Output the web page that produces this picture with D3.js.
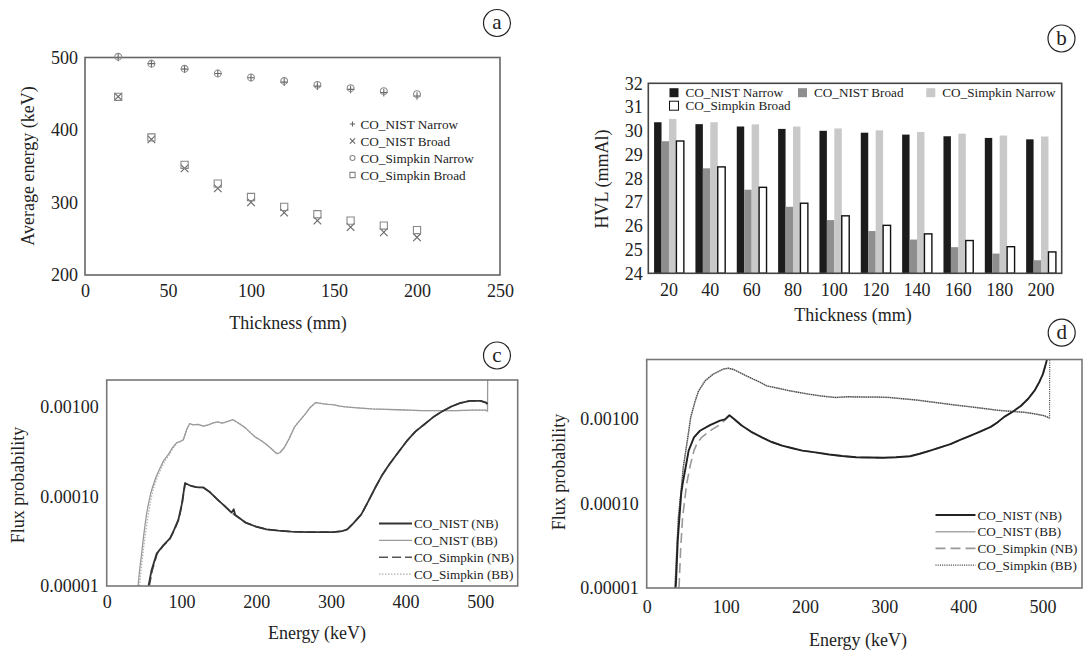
<!DOCTYPE html>
<html>
<head>
<meta charset="utf-8">
<script src="https://cdn.jsdelivr.net/npm/d3@7"></script>
<style>
body{margin:0;background:#fff}
svg text{font-family:"Liberation Serif","Times New Roman",Times,"DejaVu Serif",serif;fill:#222}
</style>
</head>
<body>
<script>
// ---- panel a : average energy vs thickness
const thickness = [20,40,60,80,100,120,140,160,180,200];
const avgNistNarrow   = [500,491.5,484,478,472,466,460.5,456,451.5,447];
const avgNistBroad    = [446,387,347,319.5,300.3,286,275,266,259,252];
const avgSimpkinNarrow= [501,491.3,484.4,478,472.5,467.5,462.3,457.7,453.6,449.5];
const avgSimpkinBroad = [445.8,389.7,352,326,307.6,293.9,283.8,275,268.2,262];

// ---- panel b : HVL bars
const hvlSeries = ["CO_NIST Narrow","CO_NIST Broad","CO_Simpkin Narrow","CO_Simpkin Broad"];
const hvlNistNarrow   = [30.36,30.28,30.18,30.08,30.0,29.92,29.84,29.77,29.70,29.64];
const hvlNistBroad    = [29.56,28.42,27.52,26.8,26.24,25.78,25.42,25.1,24.83,24.55];
const hvlSimpkinNarrow= [30.5,30.36,30.27,30.18,30.1,30.02,29.95,29.88,29.8,29.76];
const hvlSimpkinBroad = [29.57,28.48,27.62,26.95,26.42,26.02,25.66,25.38,25.12,24.9];

// ---- panel c : flux spectra [energy keV, flux]
const cNistNB = [[56,1e-5],[60,1.5e-5],[66.9,2.3e-5],[75,2.8e-5],[84.7,3.4e-5],[90,4.2e-5],[95.9,5.5e-5],[100.4,8.1e-5],[104.8,1.41e-4],[108,1.37e-4],[113,1.31e-4],[120,1.27e-4],[129.5,1.26e-4],[138,1.12e-4],[148,9.3e-5],[158,7.8e-5],[167,6.6e-5],[170,7.2e-5],[172,6.2e-5],[178,5.7e-5],[186,5.1e-5],[200,4.6e-5],[214,4.3e-5],[230,4.15e-5],[247,4.05e-5],[270,4.0e-5],[303,4.0e-5],[315,4.1e-5],[322,4.3e-5],[330,5.0e-5],[340.7,6.3e-5],[350,8.8e-5],[359.5,1.26e-4],[368,1.7e-4],[378.3,2.29e-4],[390,3.1e-4],[401.7,4.17e-4],[413,5.3e-4],[425.2,6.4e-4],[437,7.7e-4],[448.7,8.9e-4],[460,1.0e-3],[472.2,1.10e-3],[486.2,1.17e-3],[500.3,1.17e-3],[507.4,1.12e-3],[509.6,1.08e-3]];
const cNistBB = [[42,1e-5],[44,1.5e-5],[46.8,2.3e-5],[49,3.4e-5],[51.3,4.8e-5],[53.5,6.5e-5],[55.7,8.1e-5],[59,1.1e-4],[62.4,1.35e-4],[66,1.65e-4],[71.4,2.08e-4],[76,2.5e-4],[82.5,2.95e-4],[88,3.5e-4],[93.7,4.0e-4],[98,4.1e-4],[102.6,4.3e-4],[107,5.6e-4],[111,6.5e-4],[116,6.3e-4],[122,6.4e-4],[129.5,6.1e-4],[136,6.3e-4],[142,6.6e-4],[148,6.8e-4],[155,6.6e-4],[162,6.9e-4],[169,7.2e-4],[175,6.7e-4],[180,6.3e-4],[186,5.8e-4],[193,5.1e-4],[199,4.6e-4],[205,4.3e-4],[212,3.9e-4],[219,3.5e-4],[224,3.2e-4],[228,3.0e-4],[232,3.1e-4],[237.5,3.5e-4],[244,4.4e-4],[251.5,6.0e-4],[258,7.0e-4],[265.6,8.3e-4],[272,9.8e-4],[279.7,1.12e-3],[288,1.09e-3],[296,1.07e-3],[303,1.06e-3],[312,1.02e-3],[320,1.0e-3],[327,9.9e-4],[340,9.7e-4],[355,9.5e-4],[373.6,9.4e-4],[390,9.3e-4],[405,9.2e-4],[420.5,9.1e-4],[440,9.1e-4],[467.5,9.1e-4],[490,9.2e-4],[507,9.2e-4],[509.6,9.0e-4],[509.8,2.0e-3]];
const cSimpkinNB = [[57,1e-5],[61,1.5e-5],[67.5,2.3e-5],[75.5,2.8e-5],[85,3.4e-5],[90.5,4.2e-5],[96.3,5.5e-5],[100.8,8.1e-5],[105,1.4e-4],[108,1.37e-4],[113,1.31e-4],[120,1.27e-4],[129.5,1.25e-4],[138,1.12e-4],[148,9.3e-5],[158,7.8e-5],[167,6.6e-5],[178,5.7e-5],[186,5.1e-5],[200,4.6e-5],[214,4.3e-5],[230,4.15e-5],[247,4.05e-5],[270,4.0e-5],[303,4.0e-5],[315,4.1e-5],[322,4.3e-5],[330,5.0e-5],[340.7,6.3e-5],[350,8.8e-5],[359.5,1.26e-4],[368,1.7e-4],[378.3,2.29e-4],[390,3.1e-4],[401.7,4.17e-4],[413,5.3e-4],[425.2,6.4e-4],[437,7.7e-4],[448.7,8.9e-4],[460,1.0e-3],[472.2,1.10e-3],[486.2,1.17e-3],[500.3,1.17e-3],[507.4,1.12e-3],[509.6,1.08e-3]];
const cSimpkinBB = [[44,1e-5],[46,1.5e-5],[48.5,2.3e-5],[51,3.4e-5],[53.5,4.8e-5],[56,6.5e-5],[58,8.1e-5],[61,1.1e-4],[64,1.35e-4],[68,1.65e-4],[73,2.08e-4],[78,2.5e-4],[84,2.95e-4],[89,3.5e-4],[94.5,4.0e-4],[98.5,4.1e-4],[102.6,4.3e-4],[107,5.6e-4],[111,6.5e-4],[116,6.3e-4],[122,6.4e-4],[129.5,6.1e-4],[136,6.3e-4],[142,6.6e-4],[148,6.8e-4],[155,6.6e-4],[162,6.9e-4],[169,7.2e-4],[175,6.7e-4],[180,6.3e-4],[186,5.8e-4],[193,5.1e-4],[199,4.6e-4],[205,4.3e-4],[212,3.9e-4],[219,3.5e-4],[224,3.2e-4],[228,3.0e-4],[232,3.1e-4],[237.5,3.5e-4],[244,4.4e-4],[251.5,6.0e-4],[258,7.0e-4],[265.6,8.3e-4],[272,9.8e-4],[279.7,1.12e-3],[288,1.09e-3],[296,1.07e-3],[303,1.06e-3],[312,1.02e-3],[320,1.0e-3],[327,9.9e-4],[340,9.7e-4],[355,9.5e-4],[373.6,9.4e-4],[390,9.3e-4],[405,9.2e-4],[420.5,9.1e-4],[440,9.1e-4],[467.5,9.1e-4],[490,9.2e-4],[507,9.2e-4],[509.6,9.0e-4]];

// ---- panel d : flux spectra [energy keV, flux]
const dNistNB = [[36.5,1e-5],[37,1.15e-5],[39.3,3.7e-5],[41.4,6.9e-5],[43.6,1.3e-4],[45.4,1.7e-4],[49,2.6e-4],[53,4.2e-4],[59.7,6.0e-4],[67.3,7.2e-4],[80,8.4e-4],[92.6,9.5e-4],[98.8,9.8e-4],[104.5,1.1e-3],[110,1.0e-3],[120,8.3e-4],[132,7.0e-4],[145.6,6.0e-4],[158,5.3e-4],[171,4.8e-4],[183,4.5e-4],[196.6,4.2e-4],[213,4.0e-4],[230.6,3.77e-4],[247,3.62e-4],[264.6,3.5e-4],[281,3.48e-4],[298.6,3.45e-4],[315,3.5e-4],[332.7,3.6e-4],[345,3.85e-4],[358.2,4.2e-4],[370,4.55e-4],[383.7,5.0e-4],[396,5.6e-4],[409.2,6.3e-4],[422,7.1e-4],[434.7,8.0e-4],[443,9.0e-4],[451.7,1.05e-3],[462,1.2e-3],[473,1.42e-3],[482,1.72e-3],[490,2.14e-3],[496,2.7e-3],[500.6,3.36e-3],[504.8,4.6e-3],[506.5,5.5e-3]];
const dNistBB = [[35.7,1e-5],[38,2.8e-5],[40.2,6.9e-5],[43.2,1.3e-4],[46.4,2.7e-4],[52.7,6.6e-4],[55.7,1.04e-3],[61.2,1.6e-3],[65.4,2.1e-3],[73.8,2.8e-3],[84,3.36e-3],[96.7,3.85e-3],[103,3.95e-3],[110,3.8e-3],[117.8,3.5e-3],[126,3.2e-3],[134.6,2.93e-3],[143,2.7e-3],[151.5,2.44e-3],[165,2.3e-3],[179,2.15e-3],[191,2.05e-3],[204.5,1.95e-3],[221,1.85e-3],[238.5,1.78e-3],[255,1.82e-3],[272.6,1.8e-3],[290,1.8e-3],[306.7,1.78e-3],[323,1.72e-3],[340.8,1.66e-3],[358,1.58e-3],[374.9,1.51e-3],[392,1.44e-3],[409,1.38e-3],[426,1.32e-3],[443,1.26e-3],[460,1.22e-3],[477,1.19e-3],[490,1.14e-3],[502.7,1.08e-3],[509,1.02e-3]];
const dSimpkinNB = [[40.8,1e-5],[43,3e-5],[45.4,6.9e-5],[50.5,1.7e-4],[55,2.8e-4],[59.7,4.2e-4],[64,5.2e-4],[69.4,6.0e-4],[80,7.2e-4],[92.6,8.5e-4],[104.5,1.08e-3],[110,1.0e-3],[120,8.3e-4],[132,7.0e-4],[145.6,6.0e-4],[158,5.3e-4],[171,4.8e-4],[183,4.5e-4],[196.6,4.2e-4],[213,4.0e-4],[230.6,3.77e-4],[247,3.62e-4],[264.6,3.5e-4],[281,3.48e-4],[298.6,3.45e-4],[315,3.5e-4],[332.7,3.6e-4],[345,3.85e-4],[358.2,4.2e-4],[370,4.55e-4],[383.7,5.0e-4],[396,5.6e-4],[409.2,6.3e-4],[422,7.1e-4],[434.7,8.0e-4],[443,9.0e-4],[451.7,1.05e-3],[462,1.2e-3],[473,1.42e-3],[482,1.72e-3],[490,2.14e-3],[496,2.7e-3],[500.6,3.36e-3],[504.8,4.6e-3],[506.5,5.5e-3]];
const dSimpkinBB = [[35.7,1e-5],[37.9,2.8e-5],[40,6.9e-5],[43,1.3e-4],[46.2,2.7e-4],[52.5,6.6e-4],[55.5,1.04e-3],[61,1.6e-3],[65.2,2.1e-3],[73.6,2.8e-3],[84,3.36e-3],[96.7,3.85e-3],[103,3.95e-3],[110,3.8e-3],[117.8,3.5e-3],[126,3.2e-3],[134.6,2.93e-3],[143,2.7e-3],[151.5,2.44e-3],[165,2.3e-3],[179,2.15e-3],[191,2.05e-3],[204.5,1.95e-3],[221,1.85e-3],[238.5,1.78e-3],[255,1.82e-3],[272.6,1.8e-3],[290,1.8e-3],[306.7,1.78e-3],[323,1.72e-3],[340.8,1.66e-3],[358,1.58e-3],[374.9,1.51e-3],[392,1.44e-3],[409,1.38e-3],[426,1.32e-3],[443,1.26e-3],[460,1.22e-3],[477,1.19e-3],[490,1.14e-3],[502.7,1.08e-3],[509,1.02e-3],[509.2,5.5e-3]];

const fluxTicks = [1e-5,1e-4,1e-3];
const specLegend = ["CO_NIST (NB)","CO_NIST (BB)","CO_Simpkin (NB)","CO_Simpkin (BB)"];

const FONT = "'Liberation Serif','Times New Roman',Times,'DejaVu Serif',serif";
const svg = d3.select("body").append("svg").attr("width",1088).attr("height",650)
  .attr("font-family",FONT);

function cleanAxis(g){
  g.attr("font-family",FONT).attr("font-size",null);
  g.select(".domain").remove();
  g.selectAll("text").attr("font-size",18).attr("fill","#222");
}
function frame(x0,x1,y0,y1,stroke){
  svg.append("rect").attr("x",x0).attr("y",y0).attr("width",x1-x0).attr("height",y1-y0)
    .attr("fill","none").attr("stroke",stroke).attr("stroke-width",1.6);
}
function badge(cx,cy,letter){
  svg.append("circle").attr("cx",cx).attr("cy",cy).attr("r",13.5).attr("fill","none").attr("stroke","#222").attr("stroke-width",1.2);
  svg.append("text").attr("x",cx).attr("y",cy+6).attr("text-anchor","middle").attr("font-size",21).text(letter);
}
function title(x,y,txt,rot){
  svg.append("text").attr("transform",`translate(${x},${y})${rot?" rotate(-90)":""}`)
    .attr("text-anchor","middle").attr("dy","0.35em").attr("font-size",18).text(txt);
}

// ================= panel a
const xA = d3.scaleLinear([0,250],[85,500]);
const yA = d3.scaleLinear([200,500],[275,57.5]);
frame(85,500,57.5,275,"#666");
svg.append("g").attr("transform","translate(0,275)").call(d3.axisBottom(xA).tickValues([0,50,100,150,200,250]).tickSize(0).tickPadding(9)).call(cleanAxis);
svg.append("g").attr("transform","translate(85,0)").call(d3.axisLeft(yA).tickValues([200,300,400,500]).tickSize(0).tickPadding(7)).call(cleanAxis);
title(28,166,"Average energy (keV)",true);
title(288,323,"Thickness (mm)");
badge(497,23,"a");

const marker = {
  plus: s => `M${-s},0H${s}M0,${-s}V${s}`,
  cross: s => `M${-s},${-s}L${s},${s}M${-s},${s}L${s},${-s}`,
  square: s => `M${-s},${-s}H${s}V${s}H${-s}Z`
};
const aSeries = [
  {name:"CO_NIST Narrow", vals:avgNistNarrow, type:"plus", color:"#666"},
  {name:"CO_NIST Broad", vals:avgNistBroad, type:"cross", color:"#666"},
  {name:"CO_Simpkin Narrow", vals:avgSimpkinNarrow, type:"circle", color:"#888"},
  {name:"CO_Simpkin Broad", vals:avgSimpkinBroad, type:"square", color:"#888"}
];
function drawMarker(g,type,s,color){
  if(type==="circle") g.append("circle").attr("r",s).attr("fill","none").attr("stroke",color).attr("stroke-width",1.1);
  else g.append("path").attr("d",marker[type](s)).attr("fill","none").attr("stroke",color).attr("stroke-width",1.1);
}
aSeries.forEach((s,si)=>{
  s.vals.forEach((v,i)=>{
    const g = svg.append("g").attr("transform",`translate(${xA(thickness[i])},${yA(v)})`);
    drawMarker(g,s.type,s.type==="circle"?3.4:(s.type==="square"?3.6:3.8),s.color);
  });
  const lg = svg.append("g").attr("transform",`translate(352.5,${124+si*17})`);
  drawMarker(lg,s.type,s.type==="circle"?2.5:2.6,s.color);
  lg.append("text").attr("x",8).attr("dy","0.35em").attr("font-size",13.2).text(s.name);
});

// ================= panel b
const xB = d3.scaleBand(thickness,[648.3,1061.7]).paddingInner(0.28).paddingOuter(0.14);
const xB2 = d3.scaleBand(hvlSeries,[0,xB.bandwidth()]);
const yB = d3.scaleLinear([24,32],[273.3,83.3]);
const hvlData = [hvlNistNarrow,hvlNistBroad,hvlSimpkinNarrow,hvlSimpkinBroad];
const barFill = ["#1c1c1c","#8e8e8e","#c9c9c9","#ffffff"];
hvlData.forEach((vals,si)=>{
  svg.append("g").selectAll("rect").data(vals).join("rect")
    .attr("x",(d,i)=>xB(thickness[i])+xB2(hvlSeries[si]))
    .attr("y",d=>yB(d)).attr("width",xB2.bandwidth()).attr("height",d=>yB(24)-yB(d))
    .attr("fill",barFill[si]).attr("stroke",si===3?"#111":"none").attr("stroke-width",1.4);
});
frame(648.3,1061.7,83.3,273.3,"#444");
svg.append("g").attr("transform","translate(0,273.3)").call(d3.axisBottom(xB).tickSize(0).tickPadding(10)).call(cleanAxis);
svg.append("g").attr("transform","translate(648.3,0)").call(d3.axisLeft(yB).ticks(8).tickSize(0).tickPadding(5.5)).call(cleanAxis);
title(602,179,"HVL (mmAl)",true);
title(853,315,"Thickness (mm)");
badge(1061.5,38.5,"b");
const bLegendPos = [[669.5,92.7],[798,92.7],[926.3,92.7],[669.5,105.7]];
hvlSeries.forEach((s,i)=>{
  const [lx,ly] = bLegendPos[i];
  svg.append("rect").attr("x",lx).attr("y",ly-4.5).attr("width",9).attr("height",9)
    .attr("fill",barFill[i]).attr("stroke",i===3?"#111":"none").attr("stroke-width",1);
  svg.append("text").attr("x",lx+16).attr("y",ly).attr("dy","0.35em").attr("font-size",13.2).text(s);
});

// ================= spectra panels
function spectrum(opt){
  const x = d3.scaleLinear([0,550],[opt.x0,opt.x1]);
  const y = d3.scaleLog([1e-5,opt.ymax],[opt.y1,opt.y0]);
  const clipId = "clip"+opt.letter;
  svg.append("clipPath").attr("id",clipId).append("rect")
    .attr("x",opt.x0).attr("y",opt.y0).attr("width",opt.x1-opt.x0).attr("height",opt.y1-opt.y0);
  const line = d3.line().x(d=>x(d[0])).y(d=>y(d[1]));
  const lg = svg.append("g").attr("clip-path",`url(#${clipId})`);
  opt.series.forEach(s=>{
    lg.append("path").datum(s.data).attr("d",line).attr("fill","none")
      .attr("stroke",s.color).attr("stroke-width",s.width).attr("stroke-dasharray",s.dash||null)
      .attr("stroke-linejoin","round");
  });
  frame(opt.x0,opt.x1,opt.y0,opt.y1,"#777");
  svg.append("g").attr("transform",`translate(0,${opt.y1})`).call(d3.axisBottom(x).tickValues([0,100,200,300,400,500]).tickSize(0).tickPadding(opt.xpad)).call(cleanAxis);
  svg.append("g").attr("transform",`translate(${opt.x0},0)`).call(d3.axisLeft(y).tickValues(fluxTicks).tickFormat(d3.format(".5f")).tickSize(0).tickPadding(8)).call(cleanAxis);
  // legend: NIST NB, NIST BB, Simpkin NB, Simpkin BB
  opt.legendOrder.forEach((si,i)=>{
    const s = opt.series[si];
    const ly = opt.ly + i*opt.lstep;
    svg.append("line").attr("x1",opt.lx).attr("x2",opt.lx+opt.lw).attr("y1",ly).attr("y2",ly)
      .attr("stroke",s.color).attr("stroke-width",s.width).attr("stroke-dasharray",s.dash||null);
    svg.append("text").attr("x",opt.lx+opt.lw+2).attr("y",ly).attr("dy","0.35em").attr("font-size",13.2).text(specLegend[i]);
  });
}

spectrum({letter:"c", x0:106.7, x1:517.7, y0:380, y1:586, ymax:2e-3, xpad:9,
  lx:379, lw:33, ly:523.5, lstep:16.9, legendOrder:[3,1,2,0],
  series:[
    {data:cSimpkinBB, color:"#b0b0b0", width:1.3, dash:"1.5,1.5"},
    {data:cNistBB, color:"#9a9a9a", width:1.3},
    {data:cSimpkinNB, color:"#555", width:1.6, dash:"9,4"},
    {data:cNistNB, color:"#333", width:1.8}
  ]});
title(17.5,485,"Flux probability",true);
title(317,633,"Energy (keV)");
badge(497,355.5,"c");

spectrum({letter:"d", x0:646.7, x1:1082, y0:359.5, y1:588, ymax:5e-3, xpad:12,
  lx:935.5, lw:40, ly:515, lstep:16.7, legendOrder:[3,0,2,1],
  series:[
    {data:dNistBB, color:"#a8a8a8", width:1.5},
    {data:dSimpkinBB, color:"#3a3a3a", width:1.2, dash:"1,1.2"},
    {data:dSimpkinNB, color:"#999", width:1.6, dash:"10,5"},
    {data:dNistNB, color:"#222", width:1.9}
  ]});
title(558.3,472,"Flux probability",true);
title(858,640,"Energy (keV)");
badge(1061.7,332.7,"d");
</script>
</body>
</html>
